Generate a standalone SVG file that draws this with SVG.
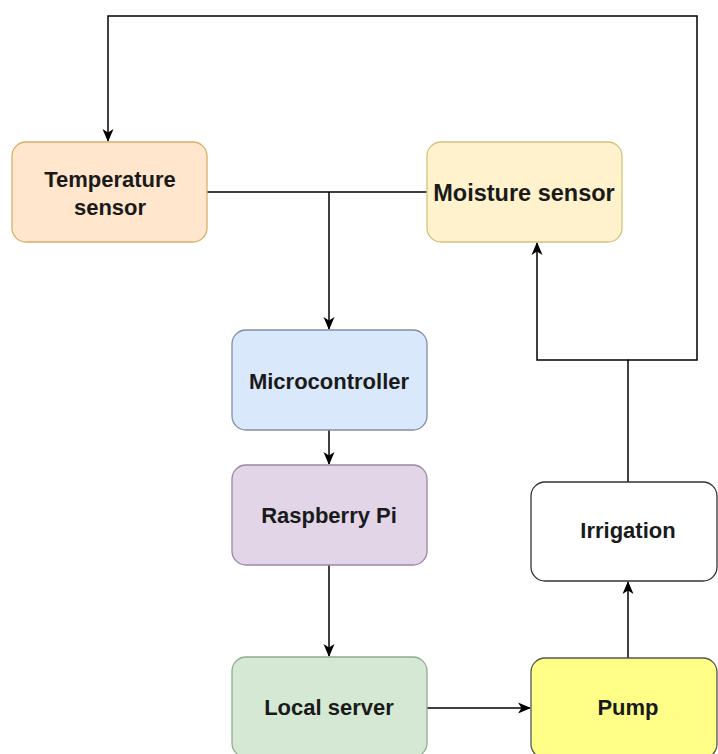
<svg xmlns="http://www.w3.org/2000/svg" width="718" height="754" viewBox="0 0 718 754">
<style>
.n{stroke-width:1.3}
.t{font-family:"Liberation Sans",Arial,sans-serif;font-weight:bold;font-size:22px;fill:#1a1a1a;text-anchor:middle}
.c{fill:none;stroke:#000;stroke-width:1.5}
</style>
<defs>
<marker id="a" markerWidth="14" markerHeight="14" refX="12" refY="7" orient="auto" markerUnits="userSpaceOnUse">
<path d="M0,1.5 L13,7 L0,12.5 L3.5,7 Z" fill="#000"/>
</marker>
</defs>
<rect width="718" height="754" fill="#fff"/>
<g id="connectors">
<path class="c" d="M207,192 H427"/>
<path class="c" d="M329,192 V329" marker-end="url(#a)"/>
<path class="c" d="M329,430 V464" marker-end="url(#a)"/>
<path class="c" d="M329,565 V656" marker-end="url(#a)"/>
<path class="c" d="M427,708 H530" marker-end="url(#a)"/>
<path class="c" d="M628,658 V582" marker-end="url(#a)"/>
<path class="c" d="M628,482 V360 H537 V243" marker-end="url(#a)"/>
<path class="c" d="M628,360 H697 V16 H108 V141" marker-end="url(#a)"/>
</g>
<g id="temperature">
<rect class="n" x="12" y="142" width="195" height="100" rx="14" fill="#ffe6cc" stroke="#d7b06a"/>
<text class="t" x="110" y="187">Temperature</text>
<text class="t" x="110" y="215">sensor</text>
</g>
<g id="moisture">
<rect class="n" x="427" y="142" width="195" height="100" rx="14" fill="#fff2cc" stroke="#d6c27a"/>
<text class="t" x="524" y="201" style="font-size:23.5px">Moisture sensor</text>
</g>
<g id="microcontroller">
<rect class="n" x="232" y="330" width="195" height="100" rx="14" fill="#dae8fc" stroke="#7f8fa6"/>
<text class="t" x="329" y="389">Microcontroller</text>
</g>
<g id="raspberry">
<rect class="n" x="232" y="465" width="195" height="100" rx="14" fill="#e1d5e7" stroke="#9a86a6"/>
<text class="t" x="329" y="523">Raspberry Pi</text>
</g>
<g id="localserver">
<rect class="n" x="232" y="657" width="195" height="100" rx="14" fill="#d5e8d4" stroke="#8fad8c"/>
<text class="t" x="329" y="715">Local server</text>
</g>
<g id="irrigation">
<rect class="n" x="531" y="482" width="186" height="99" rx="14" fill="#fff" stroke="#333"/>
<text class="t" x="628" y="538">Irrigation</text>
</g>
<g id="pump">
<rect class="n" x="531" y="658" width="186" height="100" rx="14" fill="#ffff88" stroke="#555"/>
<text class="t" x="628" y="715">Pump</text>
</g>
</svg>
